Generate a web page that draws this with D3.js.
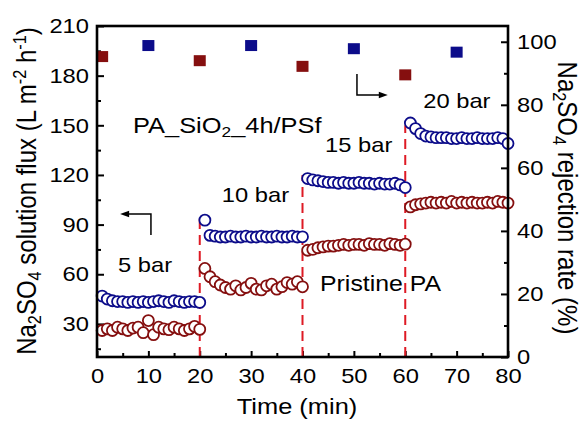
<!DOCTYPE html>
<html>
<head>
<meta charset="utf-8">
<script src="https://cdn.jsdelivr.net/npm/d3@7"></script>
<style>
  html, body { margin: 0; padding: 0; background: #fff; }
  svg { display: block; font-family: "Liberation Sans", Arial, sans-serif; }
</style>
</head>
<body>
<svg id="chart" width="584" height="423"></svg>
<script>
// ---------------- data ----------------
const timeMin = [1,2,3,4,5,6,7,8,9,10,11,12,13,14,15,16,17,18,19,20,
  21,22,23,24,25,26,27,28,29,30,31,32,33,34,35,36,37,38,39,40,
  41,42,43,44,45,46,47,48,49,50,51,52,53,54,55,56,57,58,59,60,
  61,62,63,64,65,66,67,68,69,70,71,72,73,74,75,76,77,78,79,80];

// PA_SiO2_4h/PSf flux (blue circles, left axis)
const fluxModified = [
  46.8,45.0,44.0,43.5,43.5,43.0,43.5,43.0,43.5,43.0,43.5,44.0,43.5,43.0,44.0,43.5,43.0,43.5,43.5,43.0,
  92.7,83.5,83.0,82.5,82.5,83.0,82.5,82.5,83.0,82.5,82.5,83.0,82.5,82.5,83.0,82.5,82.5,83.0,82.5,82.6,
  117.8,117.0,116.5,116.0,115.5,115.5,115.0,115.5,115.0,115.0,115.5,115.0,115.0,114.5,115.0,114.5,114.5,115.0,114.0,112.4,
  151.4,148.0,145.0,143.5,143.0,142.5,142.5,142.5,142.0,142.0,142.5,142.0,142.0,142.5,142.0,142.0,142.0,142.5,142.0,139.0];

// Pristine PA flux (red circles, left axis)
const fluxPristine = [
  26.0,27.0,26.0,28.0,27.0,26.0,27.5,28.0,24.7,32.0,23.5,28.0,27.0,26.5,28.0,27.0,26.0,27.0,28.5,26.7,
  63.5,58.5,55.5,53.5,52.0,51.0,53.0,50.5,52.0,54.5,51.0,50.5,53.0,54.0,51.0,52.5,55.0,54.0,55.5,52.4,
  74.5,75.0,76.0,76.5,77.0,77.0,77.5,78.0,77.5,78.0,78.0,77.5,78.5,78.0,78.0,77.5,78.5,78.0,77.5,78.2,
  100.7,102.0,102.5,103.0,103.5,103.0,103.5,103.0,104.0,103.0,103.5,103.0,103.5,103.0,103.0,103.5,103.0,104.0,103.5,103.0];

// rejection (squares, right axis)
const rejModTime = [10, 30, 50, 70];
const rejModified = [98.8, 98.8, 97.8, 96.7];
const rejPriTime = [1, 20, 40, 60];
const rejPristine = [95.3, 94.0, 92.2, 89.5];

// pressure step dividers
const dividerTime = [20, 40, 60];
const dividerTop = [94, 120, 150];

const xTicks = [0,10,20,30,40,50,60,70,80];
const xMinor = [5,15,25,35,45,55,65,75];
const yLeftTicks = [30,60,90,120,150,180,210];
const yLeftMinor = [15,45,75,105,135,165,195];
const yRightTicks = [0,20,40,60,80,100];
const yRightMinor = [10,30,50,70,90];

const pressureLabels = [
  {text: "5 bar", t: 4.1, v: 61.4},
  {text: "10 bar", t: 24.3, v: 103.7},
  {text: "15 bar", t: 44.4, v: 134},
  {text: "20 bar", t: 63.5, v: 160.3}
];

// ---------------- layout ----------------
const svg = d3.select("#chart");
const L = 97, R = 508, T = 26, B = 357;
const SX = 1.13; // horizontal stretch of the glyphs
const FS = 21;

const x = d3.scaleLinear().domain([0, 80]).range([L, R]);
const yL = d3.scaleLinear().domain([10, 210]).range([B, T]);
const yR = d3.scaleLinear().domain([0, 105]).range([B, T]);

const blue = "#0c0c8a", red = "#850f0f", dashRed = "#de1a24";

// axes (ticks inward)
function styleAxis(g) {
  g.selectAll(".domain").remove();
  g.selectAll(".tick line").attr("stroke", "#000").attr("stroke-width", 2);
  g.selectAll(".tick text").each(function() {
    const t = d3.select(this);
    const xx = +t.attr("x") || 0;
    const yy = +t.attr("y") || 0;
    t.attr("x", null).attr("y", null)
     .attr("transform", `translate(${xx},${yy}) scale(${SX},1)`)
     .attr("font-size", FS).attr("fill", "#000")
     .attr("font-family", "Liberation Sans, Arial, sans-serif");
  });
}

const gx = svg.append("g").attr("transform", `translate(0,${B})`)
  .call(d3.axisBottom(x).tickValues(xTicks).tickSizeInner(-6).tickSizeOuter(0).tickPadding(11));
styleAxis(gx);
gx.selectAll(".tick text").attr("dy", "0.71em");
const gxm = svg.append("g").attr("transform", `translate(0,${B})`)
  .call(d3.axisBottom(x).tickValues(xMinor).tickSizeInner(-4).tickSizeOuter(0).tickFormat(""));
styleAxis(gxm);

const gl = svg.append("g").attr("transform", `translate(${L},0)`)
  .call(d3.axisLeft(yL).tickValues(yLeftTicks).tickSizeInner(-7).tickSizeOuter(0).tickPadding(8));
styleAxis(gl);
const glm = svg.append("g").attr("transform", `translate(${L},0)`)
  .call(d3.axisLeft(yL).tickValues(yLeftMinor).tickSizeInner(-4).tickSizeOuter(0).tickFormat(""));
styleAxis(glm);

const gr = svg.append("g").attr("transform", `translate(${R},0)`)
  .call(d3.axisRight(yR).tickValues(yRightTicks).tickSizeInner(-7).tickSizeOuter(0).tickPadding(9));
styleAxis(gr);
const grm = svg.append("g").attr("transform", `translate(${R},0)`)
  .call(d3.axisRight(yR).tickValues(yRightMinor).tickSizeInner(-4).tickSizeOuter(0).tickFormat(""));
styleAxis(grm);

// dividers
svg.append("g").selectAll("line").data(dividerTime).join("line")
  .attr("x1", d => x(d)).attr("x2", d => x(d))
  .attr("y1", B).attr("y2", (d, i) => yL(dividerTop[i]))
  .attr("stroke", dashRed).attr("stroke-width", 2).attr("stroke-dasharray", "10,6");

// flux circles
function drawCircles(vals, col) {
  svg.append("g").selectAll("circle").data(vals).join("circle")
    .attr("cx", (d, i) => x(timeMin[i])).attr("cy", d => yL(d))
    .attr("r", 5.5).attr("fill", "#fff").attr("stroke", col).attr("stroke-width", 1.8);
}
drawCircles(fluxPristine, red);
drawCircles(fluxModified, blue);

// rejection squares
function drawSquares(ts, vals, col) {
  svg.append("g").selectAll("rect").data(vals).join("rect")
    .attr("x", (d, i) => x(ts[i]) - 6).attr("y", d => yR(d) - 5.5)
    .attr("width", 12).attr("height", 11).attr("fill", col);
}
drawSquares(rejPriTime, rejPristine, red);
drawSquares(rejModTime, rejModified, blue);

// frame
svg.append("rect").attr("x", L).attr("y", T).attr("width", R - L).attr("height", B - T)
  .attr("fill", "none").attr("stroke", "#000").attr("stroke-width", 2.6);

// text helper
function label(px, py, parts, opts = {}) {
  const fs = opts.fs || FS;
  const t = svg.append("text")
    .attr("transform", `translate(${px},${py}) ${opts.rot ? `rotate(${opts.rot})` : ""} scale(${opts.sx || SX},${opts.sy || 1})`)
    .attr("font-size", fs).attr("fill", "#000")
    .attr("text-anchor", opts.anchor || "start");
  parts.forEach(p => {
    if (typeof p === "string") t.append("tspan").text(p);
    else {
      const s = t.append("tspan").text(p.t).attr("font-size", fs * 0.68);
      if (p.sub) s.attr("baseline-shift", "-28%");
      if (p.sup) s.attr("baseline-shift", "55%");
    }
  });
  return t;
}

// annotations
label(133, 133, ["PA_SiO", {t: "2", sub: true}, "_4h/PSf"], {fs: 22.5});
pressureLabels.forEach(p => label(x(p.t), yL(p.v), [p.text]));
label(320, 291, ["Pristine PA"], {fs: 22});

// axis titles
label(297, 414, ["Time (min)"], {anchor: "middle", fs: 22.5});
label(36, 191, ["Na", {t: "2", sub: true}, "SO", {t: "4", sub: true}, " solution flux (L m", {t: "-2", sup: true}, " h", {t: "-1", sup: true}, ")"],
  {rot: -90, sx: 1, sy: SX, fs: 24, anchor: "middle"});
label(558, 198, ["Na", {t: "2", sub: true}, "SO", {t: "4", sub: true}, " rejection rate (%)"],
  {rot: 90, sx: 1, sy: SX, fs: 24, anchor: "middle"});

// arrows
const arrows = [
  {pts: [[10.5, 83.7, "L"], [10.5, 96.4, "L"], [4.5, 96.4, "L"]]},
  {pts: [[50.6, 89.8, "R"], [50.6, 83.1, "R"], [56.6, 83.1, "R"]]}
];
arrows.forEach(a => {
  const p = a.pts.map(([t, v, ax]) => [x(t), ax === "L" ? yL(v) : yR(v)]);
  const tip = p[2], prev = p[1];
  const dir = Math.sign(tip[0] - prev[0]);
  svg.append("path")
    .attr("d", `M${p[0][0]},${p[0][1]} L${p[1][0]},${p[1][1]} L${tip[0] - dir * 6},${tip[1]}`)
    .attr("fill", "none").attr("stroke", "#000").attr("stroke-width", 1.5);
  svg.append("path")
    .attr("d", `M${tip[0]},${tip[1]} L${tip[0] - dir * 9},${tip[1] - 3.2} L${tip[0] - dir * 9},${tip[1] + 3.2} Z`)
    .attr("fill", "#000");
});
</script>
</body>
</html>
